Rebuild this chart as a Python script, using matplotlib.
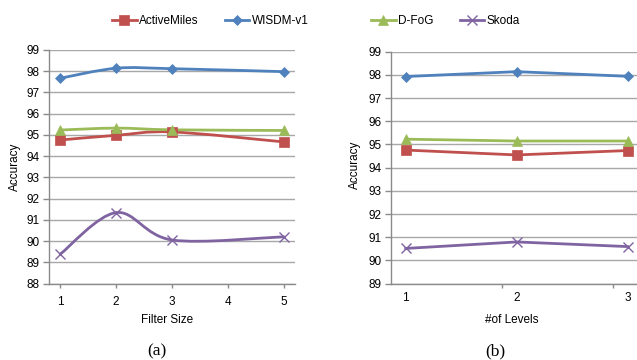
import numpy as np
import matplotlib
matplotlib.use("Agg")
import matplotlib.pyplot as plt
from matplotlib.path import Path
from matplotlib.patches import PathPatch
from matplotlib.lines import Line2D

plt.rcParams['font.family'] = ['Liberation Sans', 'DejaVu Sans']

# data
filter_size = [1, 2, 3, 5]
a_activemiles = [94.76, 94.98, 95.14, 94.67]
a_wisdm = [97.67, 98.14, 98.12, 97.98]
a_dfog = [95.23, 95.32, 95.24, 95.21]
a_skoda = [89.38, 91.34, 90.05, 90.20]

levels = [1, 2, 3]
b_activemiles = [94.76, 94.55, 94.74]
b_wisdm = [97.93, 98.14, 97.94]
b_dfog = [95.23, 95.15, 95.15]
b_skoda = [90.52, 90.80, 90.60]

series_names = ["ActiveMiles", "WISDM-v1", "D-FoG", "Skoda"]
colors = ["#C0504D", "#4F81BD", "#9BBB59", "#8064A2"]
markers = ["s", "D", "^", "x"]
msizes = [6.5, 5.0, 6.5, 6.5]

W, H = 637, 360
fig = plt.figure(figsize=(W / 100, H / 100), dpi=100)

grid_c = "#a8a8a8"
axis_c = "#8a8a8a"


def smooth_path(x, y):
    # Excel-like smoothed line (Catmull-Rom as cubic Bezier)
    x = np.asarray(x, float)
    y = np.asarray(y, float)
    pts = np.column_stack([x, y])
    n = len(pts)
    verts = [pts[0]]
    codes = [Path.MOVETO]
    for i in range(n - 1):
        p0 = pts[max(i - 1, 0)]
        p1 = pts[i]
        p2 = pts[i + 1]
        p3 = pts[min(i + 2, n - 1)]
        c1 = p1 + (p2 - p0) / 6.0
        c2 = p2 - (p3 - p1) / 6.0
        verts += [c1, c2, p2]
        codes += [Path.CURVE4] * 3
    return Path(verts, codes)


def style_axes(ax, ylo, yhi):
    ax.set_ylim(ylo, yhi)
    ax.set_yticks(range(ylo, yhi + 1))
    ax.yaxis.grid(True, color=grid_c, lw=1.0)
    ax.set_axisbelow(True)
    for s in ["top", "right"]:
        ax.spines[s].set_visible(False)
    for s in ["left", "bottom"]:
        ax.spines[s].set_color(axis_c)
        ax.spines[s].set_linewidth(1.0)
    ax.tick_params(axis="y", length=4, width=1, color=axis_c, pad=3, labelsize=8.5)
    ax.tick_params(axis="x", length=3, width=1, color=axis_c, pad=6, labelsize=8.5)


# (a) filter size
ax1 = fig.add_axes([49 / W, 1 - 283.5 / H, 246 / W, 233.5 / H])
style_axes(ax1, 88, 99)
ax1.set_xlim(0.8, 5.2)
ax1.set_xticks([1, 2, 3, 4, 5])
for vals, c, m, ms in zip([a_activemiles, a_wisdm, a_dfog, a_skoda], colors, markers, msizes):
    ax1.add_patch(PathPatch(smooth_path(filter_size, vals), fill=False, edgecolor=c,
                            lw=2.0, capstyle="round", zorder=3))
    ax1.plot(filter_size, vals, ls="none", marker=m, ms=ms, color=c,
             mew=1.0 if m == "x" else 0.5, zorder=4)

# (b) number of levels
ax2 = fig.add_axes([391 / W, 1 - 283.7 / H, 250 / W, 232 / H])
style_axes(ax2, 89, 99)
ax2.set_xlim(0.8676, 1 + (641 - 405.7) / 111)
ax2.set_xticks(levels)
ax2.tick_params(axis="x", length=0)
ax2.set_xticks([l - 0.13 for l in levels[1:]], minor=True)
ax2.tick_params(axis="x", which="minor", length=3, width=1, color=axis_c)
for vals, c, m, ms in zip([b_activemiles, b_wisdm, b_dfog, b_skoda], colors, markers, msizes):
    ax2.plot(levels, vals, color=c, lw=2.0, marker=m, ms=ms,
             mew=1.0 if m == "x" else 0.5, zorder=3)

# axis labels
fig.text(15 / W, 1 - 167 / H, "Accuracy", rotation=90, ha="center", va="center", fontsize=8.5)
fig.text(355 / W, 1 - 165 / H, "Accuracy", rotation=90, ha="center", va="center", fontsize=8.5)
fig.text(167 / W, 1 - 320 / H, "Filter Size", ha="center", va="center", fontsize=8.5)
fig.text(512 / W, 1 - 320 / H, "#of Levels", ha="center", va="center", fontsize=8.5)
fig.text(157 / W, 1 - 351 / H, "(a)", ha="center", va="center", fontsize=12.5,
         family="Liberation Serif")
fig.text(495 / W, 1 - 351 / H, "(b)", ha="center", va="center", fontsize=12.5,
         family="Liberation Serif")

# legends
handles = [Line2D([], [], color=c, lw=2.0, marker=m, ms=ms, mew=1.0 if m == "x" else 0.5)
           for c, m, ms in zip(colors, markers, msizes)]
leg_kw = dict(ncol=2, frameon=False, fontsize=8.5, handlelength=2.1, handletextpad=0.2,
              columnspacing=2.2, borderpad=0, borderaxespad=0, loc="center left")
fig.legend(handles[:2], series_names[:2], bbox_to_anchor=(112 / W, 1 - 21 / H), **leg_kw)
fig.legend(handles[2:], series_names[2:], bbox_to_anchor=(371 / W, 1 - 21 / H), **leg_kw)

fig.savefig("out.png", dpi=100)
